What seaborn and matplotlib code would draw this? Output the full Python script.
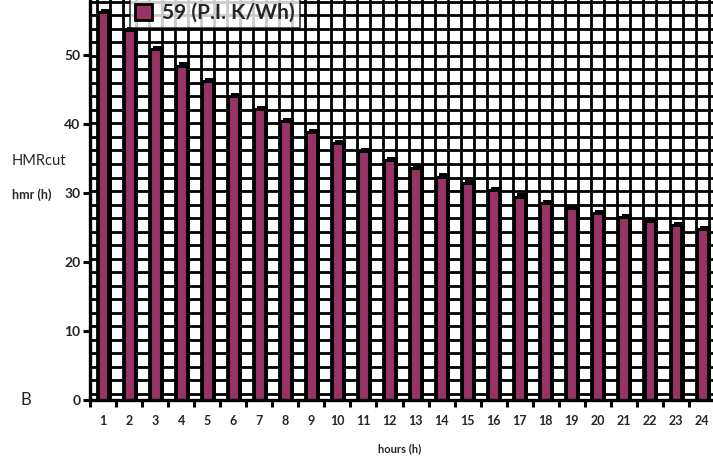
import matplotlib

matplotlib.use("Agg")
import matplotlib.pyplot as plt
import matplotlib.patheffects as pe
import numpy as np
import pandas as pd
import seaborn as sns

# data
hours = [str(h) for h in range(1, 25)]
hmr = [56.3, 53.7, 50.9, 48.5, 46.2, 44.1, 42.2, 40.5, 38.9, 37.2, 36.1, 34.8,
       33.6, 32.4, 31.4, 30.4, 29.5, 28.6, 27.9, 27.1, 26.5, 26.0, 25.4, 24.8]
y_ticks = [0, 10, 20, 30, 40, 50]
series_label = "59 (P.I. K/Wh)"

BAR_COLOR = "#993366"

sns.set_theme(style="white")
plt.rcParams["font.family"] = ["Lato", "DejaVu Sans"]

df = pd.DataFrame({"hours": hours, "hmr": hmr})

fig = plt.figure(figsize=(7.13, 4.63), dpi=100)
ax = fig.add_axes([90 / 713, 63 / 463, 1 - 90 / 713, 1 - 63 / 463])

# dense black grid behind the bars
n = len(hours)
for i in range(n):
    for off in (-0.25, 0.25):
        ax.axvline(i + off, color="black", lw=2.0, zorder=0.5)
for yv in np.arange(0.9, 60, 1.96):
    ax.axhline(yv, color="black", lw=2.0, zorder=0.5)

sns.barplot(data=df, x="hours", y="hmr", color=BAR_COLOR, width=0.42,
            edgecolor="black", linewidth=2.2, saturation=1, ax=ax,
            label=series_label, zorder=3)
for p in ax.patches:
    p.set_path_effects([
        pe.SimplePatchShadow(offset=(2.2, 2.2), shadow_rgbFace="black", alpha=1),
        pe.Normal(),
    ])

ax.set_xlim(-0.5, n - 0.58)
ax.set_ylim(0, 58)

ax.set_yticks(y_ticks)
ax.set_yticklabels([str(v) for v in y_ticks], fontweight="bold", fontsize=10)
ax.tick_params(axis="y", which="major", direction="out", length=5, width=2.2,
               color="black", pad=2, left=True)

ax.set_xticks(range(n))
ax.set_xticklabels(hours, fontweight="bold", fontsize=9)
ax.set_xticks([i - 0.5 for i in range(n)], minor=True)
ax.tick_params(axis="x", which="major", length=0, pad=11)
ax.tick_params(axis="x", which="minor", direction="out", length=5, width=2.2,
               color="black", bottom=True)

ax.set_xlabel("")
ax.set_ylabel("")
for side in ("top", "right"):
    ax.spines[side].set_visible(False)
for side in ("left", "bottom"):
    ax.spines[side].set_color("black")
    ax.spines[side].set_linewidth(2.4)
    ax.spines[side].set_zorder(4)

fig.text(400 / 713, 1 - 449 / 463, "hours (h)", ha="center", va="center",
         fontsize=8, fontweight="bold")
fig.text(12 / 713, 1 - 161 / 463, "HMRcut", ha="left", va="center", fontsize=10.5)
fig.text(12 / 713, 1 - 195 / 463, "hmr (h)", ha="left", va="center",
         fontsize=9, fontweight="bold")
fig.text(20 / 713, 1 - 400 / 463, "B", ha="left", va="center", fontsize=12)

leg = ax.legend(loc="lower left", bbox_to_anchor=(130 / 713, 1 - 28 / 463),
                bbox_transform=fig.transFigure, frameon=True, fancybox=False,
                prop={"weight": "bold", "size": 15}, handlelength=0.8,
                handleheight=0.8, handletextpad=0.5, borderpad=0.25,
                borderaxespad=0)
leg.get_frame().set_edgecolor("black")
leg.get_frame().set_linewidth(1.2)
leg.get_frame().set_facecolor("white")
leg.set_zorder(10)
for h in leg.legend_handles:
    h.set_path_effects([])
    h.set_linewidth(2.0)

fig.savefig("out.png", dpi=100)
